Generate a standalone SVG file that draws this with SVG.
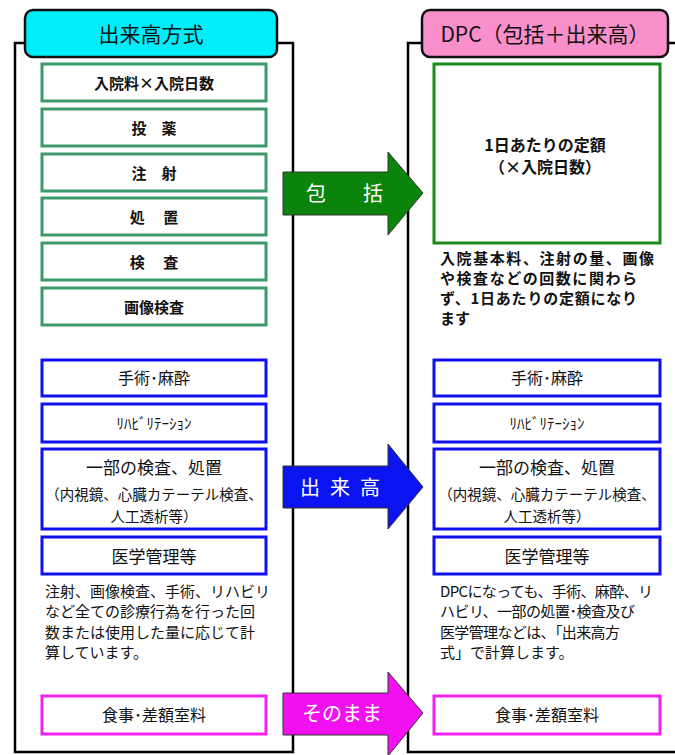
<svg xmlns="http://www.w3.org/2000/svg" width="675" height="755" viewBox="0 0 675 755">
<style>
text{font-family:"Noto Sans CJK JP","Noto Sans",sans-serif;fill:#111}
.panel{fill:#fff;stroke:#000;stroke-width:2.5}
.hdr{stroke:#111;stroke-width:2.5}
.gb{fill:#fff;stroke:#3b9a68;stroke-width:3}
.gb2{fill:#fff;stroke:#1a8a1a;stroke-width:3}
.bb{fill:#fff;stroke:#1010ee;stroke-width:3}
.pb{fill:#fff;stroke:#f020f0;stroke-width:3}
.c{text-anchor:middle}
.b{font-weight:bold}
.arr{stroke:#333;stroke-width:1}
.at{fill:#fff;font-size:20px;text-anchor:middle}
</style>
<rect width="675" height="755" fill="#fff"/>
<g id="left-panel">
<rect class="panel" x="15" y="43" width="278" height="709"/>
<rect class="hdr" x="25" y="10" width="252" height="47" rx="8" fill="#00eefa"/>
<text class="c" x="151" y="42" font-size="21">出来高方式</text>
</g>
<g id="right-panel">
<rect class="panel" x="408" y="43" width="290" height="709"/>
<rect class="hdr" x="422" y="10" width="246" height="47" rx="8" fill="#f990cc"/>
<text class="c" x="545" y="42" font-size="21">DPC（包括＋出来高）</text>
</g>
<g id="l-nyuin"><rect class="gb" x="42" y="64" width="224" height="37"/><text class="c b" x="154" y="89" font-size="15">入院料×入院日数</text></g>
<g id="l-toyaku"><rect class="gb" x="42" y="109" width="224" height="37"/><text class="c b" x="154" y="134" font-size="15">投　薬</text></g>
<g id="l-chusha"><rect class="gb" x="42" y="154" width="224" height="37"/><text class="c b" x="154" y="179" font-size="15">注　射</text></g>
<g id="l-shochi"><rect class="gb" x="42" y="198" width="224" height="37"/><text class="c b" x="154" y="223" font-size="15">処　 置</text></g>
<g id="l-kensa"><rect class="gb" x="42" y="243" width="224" height="37"/><text class="c b" x="154" y="268" font-size="15">検　 査</text></g>
<g id="l-gazo"><rect class="gb" x="42" y="288" width="224" height="37"/><text class="c b" x="154" y="313" font-size="15">画像検査</text></g>
<g id="l-shujutsu"><rect class="bb" x="42" y="360" width="224" height="36"/><text class="c" x="154" y="384" font-size="16">手術･麻酔</text></g>
<g id="l-reha"><rect class="bb" x="42" y="404" width="224" height="38"/><text class="c" x="154" y="429" font-size="15">ﾘﾊﾋﾞﾘﾃｰｼｮﾝ</text></g>
<g id="l-ichibu"><rect class="bb" x="42" y="449" width="224" height="80"/>
<text class="c" x="154" y="474" font-size="17">一部の検査、処置</text>
<text class="c" x="154" y="500" font-size="14.5">（内視鏡、心臓カテーテル検査、</text>
<text class="c" x="154" y="522" font-size="14.5">人工透析等）</text></g>
<g id="l-igaku"><rect class="bb" x="42" y="537" width="224" height="37"/><text class="c" x="154" y="563" font-size="17">医学管理等</text></g>
<g id="l-note" font-size="15">
<text x="45" y="597">注射、画像検査、手術、リハビリ</text>
<text x="45" y="617">など全ての診療行為を行った回</text>
<text x="45" y="638">数または使用した量に応じて計</text>
<text x="45" y="658">算しています。</text>
</g>
<g id="l-shokuji"><rect class="pb" x="42" y="696" width="224" height="38"/><text class="c" x="154" y="721" font-size="16">食事･差額室料</text></g>
<g id="r-teigaku"><rect class="gb2" x="434" y="64" width="226" height="179"/>
<text class="c b" x="545" y="151" font-size="16">1日あたりの定額</text>
<text class="c b" x="545" y="173" font-size="16">（×入院日数）</text></g>
<g id="r-note1" class="b" font-size="15">
<text x="440" y="264" textLength="214" lengthAdjust="spacing">入院基本料、注射の量、画像</text>
<text x="440" y="284" textLength="197" lengthAdjust="spacing">や検査などの回数に関わら</text>
<text x="440" y="304" textLength="197" lengthAdjust="spacing">ず、1日あたりの定額になり</text>
<text x="440" y="324">ます</text>
</g>
<g id="r-shujutsu"><rect class="bb" x="434" y="360" width="226" height="36"/><text class="c" x="547" y="384" font-size="16">手術･麻酔</text></g>
<g id="r-reha"><rect class="bb" x="434" y="404" width="226" height="38"/><text class="c" x="547" y="429" font-size="15">ﾘﾊﾋﾞﾘﾃｰｼｮﾝ</text></g>
<g id="r-ichibu"><rect class="bb" x="434" y="449" width="226" height="80"/>
<text class="c" x="547" y="474" font-size="17">一部の検査、処置</text>
<text class="c" x="547" y="500" font-size="14.5">（内視鏡、心臓カテーテル検査、</text>
<text class="c" x="547" y="522" font-size="14.5">人工透析等）</text></g>
<g id="r-igaku"><rect class="bb" x="434" y="537" width="226" height="37"/><text class="c" x="547" y="563" font-size="17">医学管理等</text></g>
<g id="r-note2" font-size="15">
<text x="440" y="597" textLength="213" lengthAdjust="spacing">DPCになっても、手術、麻酔、リ</text>
<text x="440" y="617" textLength="195" lengthAdjust="spacing">ハビリ、一部の処置･検査及び</text>
<text x="440" y="638" textLength="180" lengthAdjust="spacing">医学管理などは、「出来高方</text>
<text x="440" y="658">式」で計算します。</text>
</g>
<g id="r-shokuji"><rect class="pb" x="434" y="696" width="226" height="38"/><text class="c" x="547" y="721" font-size="16">食事･差額室料</text></g>
<g id="connectors">
<g id="arrow-hokatsu">
<polygon class="arr" fill="#0a840a" points="283,172 388,172 388,152 423,193 388,235 388,215 283,215"/>
<text class="at" x="316" y="201">包</text><text class="at" x="373" y="201">括</text>
</g>
<g id="arrow-dekidaka">
<polygon class="arr" fill="#0a14f0" points="283,466 388,466 388,444 423,487 388,529 388,508 283,508"/>
<text class="at" x="345" y="495" letter-spacing="10">出来高</text>
</g>
<g id="arrow-sonomama">
<polygon class="arr" fill="#f010f0" points="283,693 388,693 388,672 423,713 388,756 388,735 283,735"/>
<text class="at" x="342" y="721">そのまま</text>
</g>
</g>
</svg>
